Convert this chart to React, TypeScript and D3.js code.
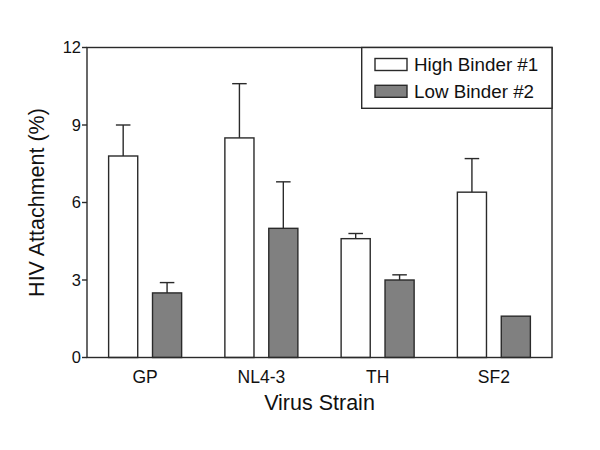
import React from "react";
import * as d3 from "d3";

const categories = ["GP", "NL4-3", "TH", "SF2"];
const seriesNames = ["High Binder #1", "Low Binder #2"];
const highValues = [7.8, 8.5, 4.6, 6.4];
const highErrors = [1.2, 2.1, 0.2, 1.3];
const lowValues = [2.5, 5.0, 3.0, 1.6];
const lowErrors = [0.4, 1.8, 0.2, 0];
const yTicks = [0, 3, 6, 9, 12];

const W = 600, H = 450;
const left = 87, right = 552, top = 47.5, bottom = 357.5;
const stroke = "#2a2a2a";
const fills = ["#ffffff", "#808080"];
const font = "Arial, 'Liberation Sans', Helvetica, sans-serif";

export default function App() {
  const x = d3.scaleBand<string>().domain(categories).range([left, right])
    .paddingInner(0.372).paddingOuter(0.186);
  const xs = d3.scaleBand<string>().domain(seriesNames).range([0, x.bandwidth()])
    .paddingInner(0.337).paddingOuter(0);
  const y = d3.scaleLinear().domain([0, 12]).range([bottom, top]);
  const series = [
    { name: seriesNames[0], values: highValues, errors: highErrors, fill: fills[0] },
    { name: seriesNames[1], values: lowValues, errors: lowErrors, fill: fills[1] },
  ];
  const bw = xs.bandwidth();
  const capW = bw / 2;
  const legX = 361.7;
  return (
    <svg width={W} height={H} style={{ position: "absolute", left: 0, top: 0, background: "#fff" }} fontFamily={font}>
      <rect x={0} y={0} width={W} height={H} fill="#fff" />
      {series.map((s) => (
        <g key={s.name}>
          {categories.map((c, i) => {
            const bx = (x(c) as number) + (xs(s.name) as number);
            const v = s.values[i];
            const e = s.errors[i];
            const cx = bx + bw / 2;
            return (
              <g key={c}>
                {e > 0 && (
                  <g stroke={stroke} strokeWidth={1.4}>
                    <line x1={cx} x2={cx} y1={y(v)} y2={y(v + e)} />
                    <line x1={cx - capW / 2} x2={cx + capW / 2} y1={y(v + e)} y2={y(v + e)} />
                  </g>
                )}
                <rect x={bx} y={y(v)} width={bw} height={y(0) - y(v)} fill={s.fill} stroke={stroke} strokeWidth={1.4} />
              </g>
            );
          })}
        </g>
      ))}
      <rect x={left} y={top} width={right - left} height={bottom - top} fill="none" stroke={stroke} strokeWidth={1.4} />
      {yTicks.map((t) => (
        <g key={t}>
          <line x1={left - 5} x2={left} y1={y(t)} y2={y(t)} stroke={stroke} strokeWidth={1.4} />
          <text x={left - 6} y={y(t)} dy="0.36em" textAnchor="end" fontSize={16.5} fill="#111">{t}</text>
        </g>
      ))}
      {categories.map((c) => (
        <text key={c} x={(x(c) as number) + x.bandwidth() / 2} y={382.5} textAnchor="middle" fontSize={17.5} fill="#111">{c}</text>
      ))}
      <text x={(left + right) / 2} y={410} textAnchor="middle" fontSize={21.5} fill="#111">Virus Strain</text>
      <text transform={`translate(44,${(top + bottom) / 2}) rotate(-90)`} textAnchor="middle" fontSize={21.5} fill="#111">HIV Attachment (%)</text>
      <rect x={legX} y={top} width={right - legX} height={108.3 - top} fill="#fff" stroke={stroke} strokeWidth={1.4} />
      {series.map((s, i) => (
        <g key={s.name}>
          <rect x={375} y={58.5 + i * 26.8} width={32} height={12} fill={s.fill} stroke={stroke} strokeWidth={1.4} />
          <text x={414} y={71 + i * 27} fontSize={18.8} fill="#111">{s.name}</text>
        </g>
      ))}
    </svg>
  );
}
